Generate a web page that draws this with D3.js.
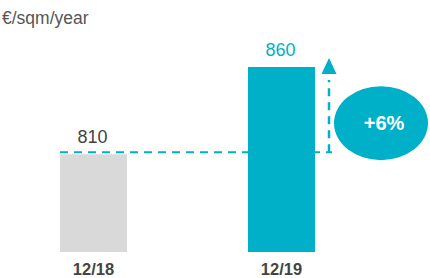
<!DOCTYPE html>
<html><head><meta charset="utf-8">
<script src="https://cdn.jsdelivr.net/npm/d3@7"></script>
<style>body{margin:0;background:#fff}svg{display:block}</style>
</head><body>
<script>
const categories = ["12/18", "12/19"];
const values = [810, 860];
const unitLabel = "€/sqm/year";
const changeLabel = "+6%";

const W = 430, H = 278;
const cyan = "#00AFC8", grey = "#D9D9D9", textCol = "#444";
const svg = d3.select("body").append("svg").attr("width", W).attr("height", H)
  .style("font-family", "'Liberation Sans', Arial, sans-serif");

const x = d3.scaleBand().domain(categories).range([60, 315]).paddingInner(0.6436).paddingOuter(0);
const y = d3.scaleLinear().domain([754, 860]).range([252, 67]);
const barColors = [grey, cyan];

svg.append("text").attr("x", 2).attr("y", 24).attr("fill", "#555").attr("font-size", 17.5).text(unitLabel);

svg.selectAll("rect.bar").data(values).join("rect").attr("class", "bar")
  .attr("x", (d, i) => x(categories[i])).attr("width", x.bandwidth())
  .attr("y", d => y(d)).attr("height", d => y.range()[0] - y(d))
  .attr("fill", (d, i) => barColors[i]);

svg.selectAll("text.val").data(values).join("text").attr("class", "val")
  .attr("x", (d, i) => x(categories[i]) + x.bandwidth() / 2 - 1)
  .attr("y", d => y(d) - 11).attr("text-anchor", "middle").attr("font-size", 18)
  .attr("fill", (d, i) => i === 1 ? cyan : textCol).text(d => d);

svg.selectAll("text.cat").data(categories).join("text").attr("class", "cat")
  .attr("x", d => x(d) + x.bandwidth() / 2).attr("y", 274.5)
  .attr("text-anchor", "middle").attr("font-size", 16.5).attr("font-weight", "bold")
  .attr("fill", textCol).text(d => d);

// dashed reference line at previous value
const ax = x(categories[1]) + x.bandwidth() + 14;
const yRef = y(values[0]) - 2;
svg.append("line").attr("x1", x(categories[0])).attr("x2", ax + 3).attr("y1", yRef).attr("y2", yRef)
  .attr("stroke", cyan).attr("stroke-width", 2).attr("stroke-dasharray", "8,6");
const yTop = y(values[1]) + 13;
svg.append("line").attr("x1", ax).attr("x2", ax).attr("y1", yRef).attr("y2", yTop)
  .attr("stroke", cyan).attr("stroke-width", 2.5).attr("stroke-dasharray", "8,6");
svg.append("path").attr("d", `M${ax - 7.5},${yTop - 6} L${ax + 7.5},${yTop - 6} L${ax},${yTop - 22} Z`).attr("fill", cyan);

// ellipse
const cx = ax + 52, cy = (yRef + yTop) / 2 + 7;
svg.append("ellipse").attr("cx", cx).attr("cy", cy).attr("rx", 47).attr("ry", 37).attr("fill", cyan);
svg.append("text").attr("x", cx + 3).attr("y", cy + 7).attr("text-anchor", "middle")
  .attr("font-size", 20).attr("font-weight", "bold").attr("fill", "#fff").text(changeLabel);
</script>
</body></html>
